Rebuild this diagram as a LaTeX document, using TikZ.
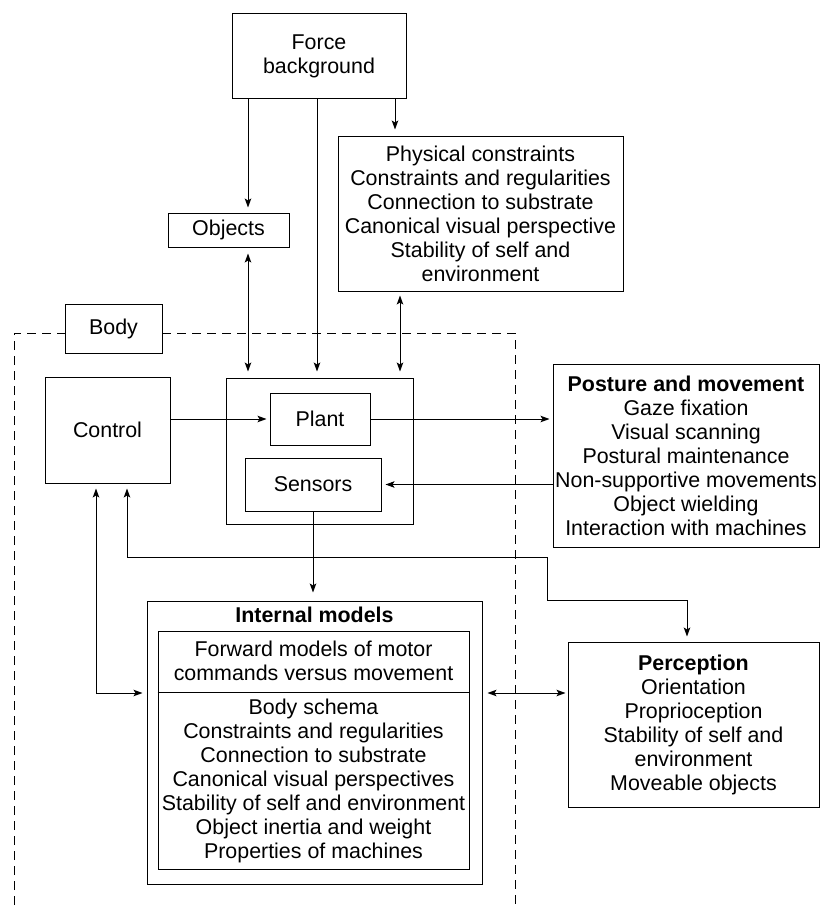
\documentclass[tikz,border=0pt]{standalone}
\usepackage{fontspec}
\setmainfont{Liberation Sans}
\usetikzlibrary{arrows.meta,calc}
\newcommand\myfs{\fontsize{21.4}{24}\selectfont}
\begin{document}
\begin{tikzpicture}[x=1pt,y=-1pt,
  box/.style={draw,line width=1pt,inner sep=0pt,align=center,font=\myfs,fill=white},
  txt/.style={inner sep=0pt,align=center,font=\myfs},
  conn/.style={line width=1pt,-{Stealth[length=9pt,width=6.5pt,inset=2pt]}},
  conn2/.style={line width=1pt,{Stealth[length=9pt,width=6.5pt,inset=2pt]}-{Stealth[length=9pt,width=6.5pt,inset=2pt]}},
  bound/.style={line width=0.8pt,dash pattern=on 9pt off 6pt}]
\useasboundingbox (0,0) rectangle (821,907);
% body boundary
\coordinate (dbl) at (14,905);
\coordinate (dtl) at (14,333);
\coordinate (dtr) at (515,333);
\coordinate (dbr) at (515,905);
\draw[bound] (dbl) -- (dtl) -- (dtr) -- (dbr);
% nodes
\node[box,minimum width=174pt,minimum height=84pt] (force) at (319,56) {Force\\background};
\node[box,minimum width=121pt,minimum height=34pt] (objects) at (228.5,230) {Objects};
\node[box,minimum width=285pt,minimum height=155pt] (phys) at (480.5,213.5) {Physical constraints\\Constraints and regularities\\Connection to substrate\\Canonical visual perspective\\Stability of self and\\environment};
\node[box,minimum width=97pt,minimum height=49pt] (body) at (113.5,328.5) {Body};
\node[box,minimum width=125pt,minimum height=106pt] (control) at (107.5,430) {Control};
\node[box,minimum width=187pt,minimum height=146pt] (outer) at (319.5,451) {};
\node[box,minimum width=100pt,minimum height=52pt] (plant) at (320,419) {Plant};
\node[box,minimum width=136pt,minimum height=53pt] (sensors) at (313,484.5) {Sensors};
\node[box,minimum width=266pt,minimum height=183pt] (posture) at (686,455.5) {\textbf{Posture and movement}\\Gaze fixation\\Visual scanning\\Postural maintenance\\Non-supportive movements\\Object wielding\\Interaction with machines};
\node[box,minimum width=335pt,minimum height=283pt] (internal) at (314.5,742.5) {};
\node[txt] (inttitle) at (314.5,615) {\textbf{Internal models}};
\node[box,minimum width=311pt,minimum height=238pt] (inner) at (313.5,750) {};
\coordinate (div) at (0,692);
\draw[line width=1pt] (inner.west |- div) -- (inner.east |- div);
\node[txt] (fwd) at (313.5,661) {Forward models of motor\\commands versus movement};
\node[txt] (schema) at (313.5,781) {Body schema\\Constraints and regularities\\Connection to substrate\\Canonical visual perspectives\\Stability of self and environment\\Object inertia and weight\\Properties of machines};
\node[box,minimum width=251pt,minimum height=165pt] (perc) at (693.5,724.5) {\textbf{Perception}\\Orientation\\Proprioception\\Stability of self and\\environment\\Moveable objects};
% columns
\coordinate (cA) at (248,0);
\coordinate (cB) at (317,0);
\coordinate (cC) at (395,0);
\coordinate (cD) at (400,0);
\coordinate (cE) at (127,0);
\coordinate (cF) at (96,0);
\coordinate (r1) at (547,557);
\coordinate (r2) at (687,600);
\coordinate (m) at (0,693);
% connectors
\draw[conn,shorten >=5pt] (force.south -| cA) -- (objects.north -| cA);
\draw[conn,shorten >=6pt] (force.south -| cB) -- (outer.north -| cB);
\draw[conn,shorten >=6pt] (force.south -| cC) -- (phys.north -| cC);
\draw[conn2,shorten <=6pt,shorten >=6pt] (objects.south -| cA) -- (outer.north -| cA);
\draw[conn2,shorten <=4pt,shorten >=6pt] (phys.south -| cD) -- (outer.north -| cD);
\draw[conn,shorten >=3pt] (control.east |- plant.west) -- (plant.west);
\draw[conn,shorten >=3pt] (plant.east) -- (posture.west |- plant.east);
\draw[conn,shorten >=4pt] (posture.west |- sensors.east) -- (sensors.east);
\draw[conn,shorten >=8pt] (sensors.south) -- (internal.north -| sensors.south);
\draw[conn2,shorten <=5pt,shorten >=5pt] (control.south -| cE) |- (r1) |- (r2) -- (perc.north -| r2);
\draw[conn2,shorten <=5pt,shorten >=4pt] (control.south -| cF) |- (internal.west |- m);
\draw[conn2,shorten <=5pt,shorten >=2pt] (internal.east |- m) -- (perc.west |- m);
\end{tikzpicture}
\end{document}
